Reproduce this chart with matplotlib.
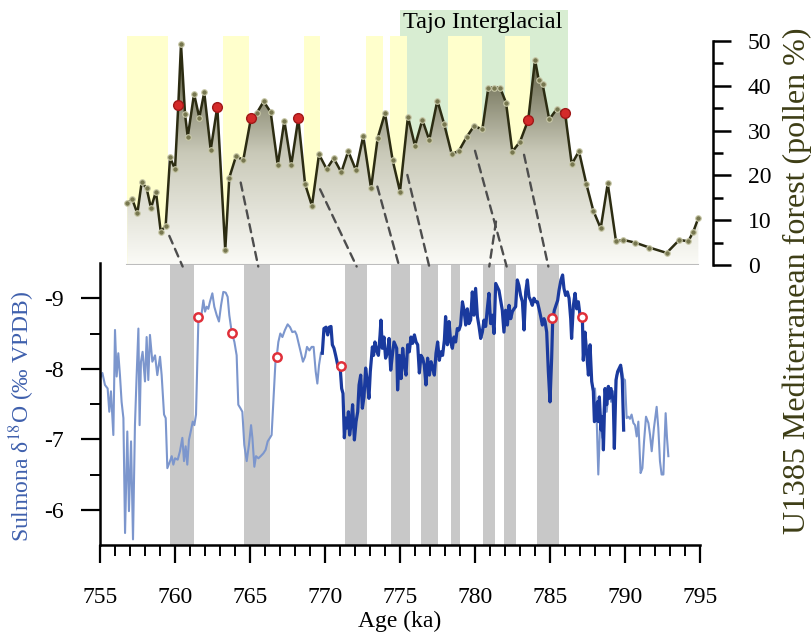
import numpy as np
import matplotlib
matplotlib.use("Agg")
import matplotlib.pyplot as plt
from matplotlib.colors import LinearSegmentedColormap
from matplotlib.patches import Polygon, ConnectionPatch
from matplotlib.ticker import MultipleLocator, FixedLocator

plt.rcParams["font.family"] = ["Liberation Serif", "DejaVu Serif"]
plt.rcParams["mathtext.fontset"] = "stix"
plt.rcParams["axes.unicode_minus"] = False

# --- U1385 Mediterranean forest pollen (top panel) ---
pollen_age = [756.82, 757.15, 757.49, 757.78, 758.11, 758.40, 758.73, 759.05, 759.38, 759.67,
              760.00, 760.22, 760.40, 760.67, 760.85, 761.27, 761.62, 761.95, 762.38, 762.82,
              763.35, 763.62, 764.07, 764.55, 765.07, 765.45, 765.91, 766.38, 766.85, 767.29,
              767.75, 768.22, 768.67, 769.13, 769.60, 770.11, 770.58, 771.09, 771.55, 772.07,
              772.55, 773.07, 773.51, 774.00, 774.51, 775.00, 775.53, 776.00, 776.49, 776.95,
              777.49, 777.95, 778.45, 778.93, 779.45, 779.93, 780.49, 780.89, 781.27, 781.67,
              782.07, 782.49, 783.00, 783.55, 784.00, 784.25, 784.51, 784.95, 785.45, 786.00,
              786.45, 786.93, 787.43, 787.89, 788.38, 788.85, 789.40, 789.89, 790.67, 791.62,
              792.78, 793.62, 794.22, 794.55, 794.89]
pollen_pct = [13.8, 14.7, 11.5, 18.5, 17.1, 12.7, 16.4, 7.4, 8.8, 24.0,
              21.4, 35.7, 49.3, 33.6, 28.6, 38.2, 32.9, 38.5, 25.7, 35.3,
              3.3, 19.5, 24.3, 23.4, 32.9, 33.9, 36.5, 34.1, 22.3, 32.2,
              22.3, 32.7, 18.1, 13.2, 24.7, 21.4, 23.8, 20.7, 25.4, 21.1,
              28.8, 17.1, 28.3, 33.9, 23.4, 16.4, 33.1, 26.6, 32.4, 27.9,
              36.7, 31.4, 24.7, 25.5, 28.6, 31.0, 30.3, 39.6, 39.6, 39.6,
              36.2, 25.3, 27.5, 32.4, 45.8, 41.3, 40.3, 32.5, 34.8, 34.0,
              22.5, 25.4, 18.0, 12.1, 8.2, 18.2, 5.3, 5.6, 5.0, 3.9,
              2.7, 5.6, 5.3, 7.4, 10.5]
pollen_red_age = [760.22, 762.82, 765.07, 768.22, 783.55, 786.00]

yellow_bands = [(756.78, 759.55), (763.20, 764.93), (768.60, 769.67), (772.73, 773.89),
                (774.33, 775.45), (778.20, 780.45), (782.00, 783.67)]
tajo_band = (775.00, 786.22)

# --- Sulmona d18O (bottom panel) ---
sul_early_age = [755.00, 755.16, 755.33, 755.51, 755.62, 755.73, 755.89, 756.00, 756.11, 756.22,
                 756.33, 756.44, 756.56, 756.67, 756.82, 756.93, 757.07, 757.20, 757.33, 757.44,
                 757.56, 757.64, 757.73, 757.84, 758.00, 758.11, 758.22, 758.33, 758.49, 758.67,
                 758.82, 759.00, 759.11, 759.27, 759.38, 759.49, 759.67, 759.78, 759.89, 760.00,
                 760.18, 760.33, 760.49, 760.60, 760.71, 760.82, 760.93, 761.07, 761.18, 761.29,
                 761.40, 761.56, 761.73, 761.89, 762.00, 762.11, 762.22, 762.33, 762.49, 762.62,
                 762.78, 762.93, 763.07, 763.22, 763.38, 763.51, 763.62, 763.78, 763.96, 764.11,
                 764.22, 764.36, 764.49, 764.62, 764.78, 764.93, 765.07, 765.16, 765.29, 765.40,
                 765.56, 765.71, 765.89, 766.04, 766.18, 766.33, 766.44, 766.71, 766.78, 766.89,
                 767.02, 767.16, 767.33, 767.51, 767.67, 767.82, 768.00, 768.11, 768.22, 768.40,
                 768.53, 768.67, 768.80, 768.96, 769.11, 769.24, 769.38, 769.49, 769.60, 769.73,
                 769.82]
sul_early_d18o = [-7.86, -7.94, -7.77, -7.72, -7.39, -7.68, -7.06, -8.55, -7.89, -8.22,
                  -7.91, -7.53, -7.30, -5.67, -7.11, -5.98, -6.97, -5.58, -7.20, -7.89,
                  -8.57, -7.20, -8.10, -8.24, -7.82, -8.45, -7.84, -8.48, -8.10, -8.19,
                  -7.91, -8.17, -7.91, -7.35, -7.30, -6.59, -6.69, -6.76, -6.64, -6.73,
                  -6.71, -6.83, -7.02, -6.69, -6.90, -6.64, -6.99, -7.13, -7.25, -7.20,
                  -7.35, -8.71, -8.71, -8.97, -8.81, -8.88, -8.85, -8.95, -9.07, -8.88,
                  -8.76, -8.67, -8.90, -9.09, -9.08, -9.02, -8.76, -8.52, -8.38, -8.19,
                  -7.49, -7.44, -7.39, -6.92, -6.69, -6.92, -7.20, -7.02, -6.61, -6.76,
                  -6.73, -6.76, -6.80, -6.85, -6.97, -7.02, -7.06, -8.15, -8.17, -8.38,
                  -8.50, -8.45, -8.55, -8.63, -8.59, -8.52, -8.53, -8.48, -8.38, -8.22,
                  -8.10, -8.17, -8.31, -8.26, -8.31, -8.31, -7.96, -7.79, -8.05, -8.23,
                  -8.22]

sul_late_age = [787.89, 788.00, 788.11, 788.22, 788.36, 788.49, 788.62, 788.78, 788.93, 789.07,
                789.22, 789.33, 789.44, 789.60, 789.78, 789.89, 790.00, 790.11, 790.22, 790.33,
                790.44, 790.56, 790.67, 790.78, 790.89, 791.04, 791.16, 791.27, 791.40, 791.56,
                791.67, 791.78, 791.93, 792.11, 792.22, 792.33, 792.44, 792.56, 792.62, 792.71,
                792.80, 792.89]
sul_late_d18o = [-7.68, -7.72, -7.30, -6.50, -7.35, -7.02, -7.68, -7.39, -7.75, -7.53,
                 -7.68, -7.39, -7.91, -7.96, -8.01, -7.86, -7.84, -7.30, -7.32, -7.29,
                 -7.35, -7.23, -7.20, -7.04, -7.25, -6.52, -6.59, -6.97, -7.32, -7.23,
                 -7.06, -6.83, -7.16, -7.46, -7.16, -6.69, -6.50, -6.50, -6.87, -7.37,
                 -7.02, -6.76]

sul_hr_age = [769.82, 769.93, 770.07, 770.18, 770.29, 770.40, 770.49, 770.60, 770.71, 770.80,
              770.89, 771.00, 771.11, 771.20, 771.29, 771.38, 771.47, 771.56, 771.64, 771.73,
              771.84, 771.96, 772.07, 772.18, 772.27, 772.38, 772.49, 772.60, 772.71, 772.82,
              772.93, 773.02, 773.16, 773.24, 773.33, 773.44, 773.56, 773.67, 773.73, 773.82,
              773.93, 774.04, 774.18, 774.27, 774.38, 774.49, 774.60, 774.78, 774.84, 774.96,
              775.07, 775.18, 775.29, 775.40, 775.51, 775.62, 775.73, 775.84, 775.96, 776.07,
              776.18, 776.29, 776.40, 776.51, 776.62, 776.73, 776.84, 776.96, 777.07, 777.18,
              777.29, 777.40, 777.51, 777.62, 777.73, 777.84, 777.96, 778.04, 778.16, 778.27,
              778.38, 778.49, 778.60, 778.71, 778.82, 778.93, 779.04, 779.16, 779.27, 779.38,
              779.49, 779.60, 779.71, 779.82, 779.93, 780.04, 780.16, 780.27, 780.38, 780.49,
              780.60, 780.71, 780.82, 780.93, 781.04, 781.16, 781.27, 781.38, 781.49, 781.60,
              781.71, 781.82, 781.93, 782.04, 782.16, 782.27, 782.38, 782.49, 782.60, 782.71,
              782.82, 782.93, 783.04, 783.16, 783.27, 783.38, 783.49, 783.60, 783.71, 783.82,
              783.93, 784.04, 784.16, 784.27, 784.38, 784.49, 784.60, 784.67, 784.78, 784.89,
              785.00, 785.11, 785.18, 785.29, 785.40, 785.51, 785.60, 785.73, 785.84, 785.93,
              786.04, 786.16, 786.27, 786.38, 786.44, 786.56, 786.67, 786.78, 786.89, 787.00,
              787.16, 787.22, 787.33, 787.44, 787.56, 787.67, 787.78, 787.89, 787.96, 788.04,
              788.16, 788.22, 788.29, 788.40, 788.49, 788.56, 788.67, 788.78, 788.89, 788.96,
              789.07, 789.22, 789.29, 789.40, 789.51, 789.62, 789.71, 789.82, 789.91]
sul_hr_d18o = [-8.22, -8.57, -8.59, -8.48, -8.59, -8.60, -8.34, -8.29, -8.19, -8.10,
               -8.01, -8.05, -7.72, -7.65, -7.02, -7.30, -7.16, -7.39, -7.06, -7.20,
               -7.49, -6.99, -7.25, -7.39, -7.77, -7.91, -7.44, -7.60, -8.01, -7.82,
               -7.58, -7.96, -8.31, -8.19, -8.38, -8.26, -8.19, -8.48, -8.69, -8.29,
               -8.45, -8.15, -8.24, -8.43, -7.98, -8.19, -8.38, -8.29, -7.70, -8.19,
               -7.86, -8.29, -8.05, -7.91, -8.34, -8.24, -8.45, -8.36, -8.48, -8.38,
               -8.34, -7.94, -8.19, -8.15, -8.05, -7.77, -8.15, -7.91, -8.10, -8.01,
               -7.91, -8.22, -8.38, -8.12, -8.24, -8.19, -8.41, -8.74, -8.34, -8.67,
               -8.38, -8.29, -8.45, -8.38, -8.57, -8.55, -8.62, -8.95, -8.83, -8.62,
               -8.85, -8.64, -8.69, -9.09, -8.76, -9.14, -8.74, -8.60, -8.43, -8.52,
               -8.69, -8.60, -8.85, -9.07, -8.64, -8.76, -8.50, -9.21, -9.16, -9.11,
               -8.97, -8.83, -8.52, -8.83, -8.62, -8.90, -8.71, -8.81, -8.85, -8.88,
               -9.26, -9.18, -9.04, -8.95, -8.55, -9.09, -9.26, -9.02, -8.97, -8.90,
               -9.00, -8.95, -8.95, -8.85, -8.74, -8.62, -8.71, -8.67, -8.52, -7.96,
               -7.53, -8.15, -8.69, -8.83, -8.90, -8.97, -9.11, -9.26, -9.33, -9.14,
               -9.04, -9.09, -9.00, -8.71, -8.43, -8.90, -9.07, -8.85, -8.95, -8.76,
               -8.71, -8.12, -8.52, -8.24, -7.91, -8.34, -7.82, -7.68, -7.25, -7.27,
               -7.53, -7.25, -7.60, -7.13, -7.32, -6.85, -7.72, -7.49, -7.75, -7.58,
               -7.72, -7.53, -6.87, -7.84, -7.96, -8.01, -8.05, -7.84, -7.13]

sul_red_age = [761.51, 763.82, 766.78, 771.07, 785.16, 787.16]
sul_red_d18o = [-8.73, -8.51, -8.17, -8.04, -8.72, -8.73]

grey_bands = [(759.67, 761.27), (764.60, 766.33), (771.33, 772.80), (774.40, 775.67),
              (776.40, 777.50), (778.40, 779.00), (780.55, 781.30), (781.90, 782.70),
              (784.15, 785.60)]

# tie lines: (pollen age, pollen %, Sulmona age)
tie_pollen_age = [759.62, 764.38, 769.67, 773.49, 775.49, 780.00, 781.40, 783.27]
tie_pollen_pct = [6.5, 18.4, 16.9, 17.5, 20.1, 25.5, 9.7, 24.6]
tie_sul_age = [760.51, 765.55, 772.11, 774.95, 776.95, 782.11, 780.95, 784.89]

W, H = 812, 637
fig = plt.figure(figsize=(W / 100, H / 100), dpi=100)


def box(l, t, r, b):
    return [l / W, 1 - b / H, (r - l) / W, (b - t) / H]


ax = fig.add_axes(box(100, 263, 700, 545))
top = fig.add_axes(box(100, 9.6, 713, 265))
top.patch.set_visible(False)
ax.patch.set_visible(False)

# ---- top panel ----
top_ymax = 57
for a, b in yellow_bands:
    top.axvspan(a, b, ymin=0, ymax=51 / top_ymax, color="#ffffcc", lw=0, zorder=1)
top.axvspan(*tajo_band, ymin=0, ymax=1, color="#d8edd2", lw=0, zorder=0.5)

cmap = LinearSegmentedColormap.from_list("olive", ["#fbfbf7", "#c9c9b8", "#4b4b2e"])
grad = np.linspace(0, 1, 256).reshape(-1, 1)
im = top.imshow(grad, cmap=cmap, origin="lower", aspect="auto",
                extent=[pollen_age[0], pollen_age[-1], 0, 50], zorder=2)
verts = [(pollen_age[0], 0)] + list(zip(pollen_age, pollen_pct)) + [(pollen_age[-1], 0)]
clip = Polygon(verts, closed=True, facecolor="none", edgecolor="none", transform=top.transData)
top.add_patch(clip)
im.set_clip_path(clip)

top.plot([pollen_age[0], pollen_age[-1]], [0, 0], color="#bdbdbd", lw=1.5, zorder=2.5)
top.plot(pollen_age, pollen_pct, color="#2c2c12", lw=1.8, marker="o", ms=4,
         mfc="#77774f", mec="#c9c9a9", mew=0.8, zorder=3)
top.plot(pollen_red_age, np.interp(pollen_red_age, pollen_age, pollen_pct), "o", ms=7,
         mfc="#d42a2a", mec="#a01818", mew=1, zorder=4)

top.text(780.53, 54.2, "Tajo Interglacial", ha="center", va="center", fontsize=17.5, zorder=5)

top.set_xlim(755, 755 + 613 / 15)
top.set_ylim(0, top_ymax)
for s in ["left", "top", "bottom"]:
    top.spines[s].set_visible(False)
top.spines["right"].set_bounds(0, 50)
top.spines["right"].set_linewidth(1.8)
top.set_xticks([])
top.yaxis.tick_right()
top.set_yticks(range(0, 51, 10))
top.yaxis.set_minor_locator(FixedLocator([5, 15, 25, 35, 45]))
top.tick_params(axis="y", which="major", length=13, width=1.8, pad=12, labelsize=17)
top.tick_params(axis="y", which="minor", length=7, width=1.8)

# ---- bottom panel ----
for a, b in grey_bands:
    ax.axvspan(a, b, color="#c8c8c8", lw=0, zorder=0)

ax.plot(sul_early_age, sul_early_d18o, color="#7c96cd", lw=1.5, zorder=2)
ax.plot(sul_late_age, sul_late_d18o, color="#7c96cd", lw=1.5, zorder=2)
ax.plot(sul_hr_age, sul_hr_d18o, color="#1a3a9e", lw=2.3, zorder=3)
ax.plot(sul_red_age, sul_red_d18o, "o", ms=6, mfc="white", mec="#e0303a", mew=1.8, zorder=4)

ax.set_xlim(755, 795)
ax.set_ylim(-5.5, -9.5)
ax.spines["top"].set_visible(False)
ax.spines["right"].set_visible(False)
ax.spines["left"].set_linewidth(1.8)
ax.spines["bottom"].set_linewidth(1.8)
ax.set_xticks(range(755, 796, 5))
ax.xaxis.set_minor_locator(MultipleLocator(1))
ax.set_yticks([-9, -8, -7, -6])
ax.set_yticklabels(["-9", "-8", "-7", "-6"])
ax.yaxis.set_minor_locator(FixedLocator([-8.5, -7.5, -6.5]))
ax.tick_params(axis="x", which="major", length=13, width=1.6, pad=17, labelsize=17)
ax.tick_params(axis="x", which="minor", length=8, width=1.4)
ax.tick_params(axis="y", which="major", length=14, width=1.6, pad=12, labelsize=17)
ax.tick_params(axis="y", which="minor", length=7, width=1.4)

# tie lines between the two records
for pa, pv, sa in zip(tie_pollen_age, tie_pollen_pct, tie_sul_age):
    cp = ConnectionPatch(xyA=(pa, pv), coordsA=top.transData, xyB=(sa, -9.45),
                         coordsB=ax.transData, color="#4d4d4d", lw=1.7,
                         linestyle=(0, (3.5, 2.5)), zorder=6)
    fig.add_artist(cp)

fig.text(400 / W, 1 - 621 / H, "Age (ka)", ha="center", va="center", fontsize=17)
fig.text(22 / W, 1 - 416 / H, r"Sulmona δ$^{18}$O (‰ VPDB)", rotation=90,
         ha="center", va="center", fontsize=17, color="#3f60ad")
fig.text(797 / W, 1 - 28 / H, "U1385 Mediterranean forest (pollen %)", rotation=90,
         ha="center", va="top", fontsize=23, color="#3d3d15")

fig.savefig("out.png", dpi=100)
